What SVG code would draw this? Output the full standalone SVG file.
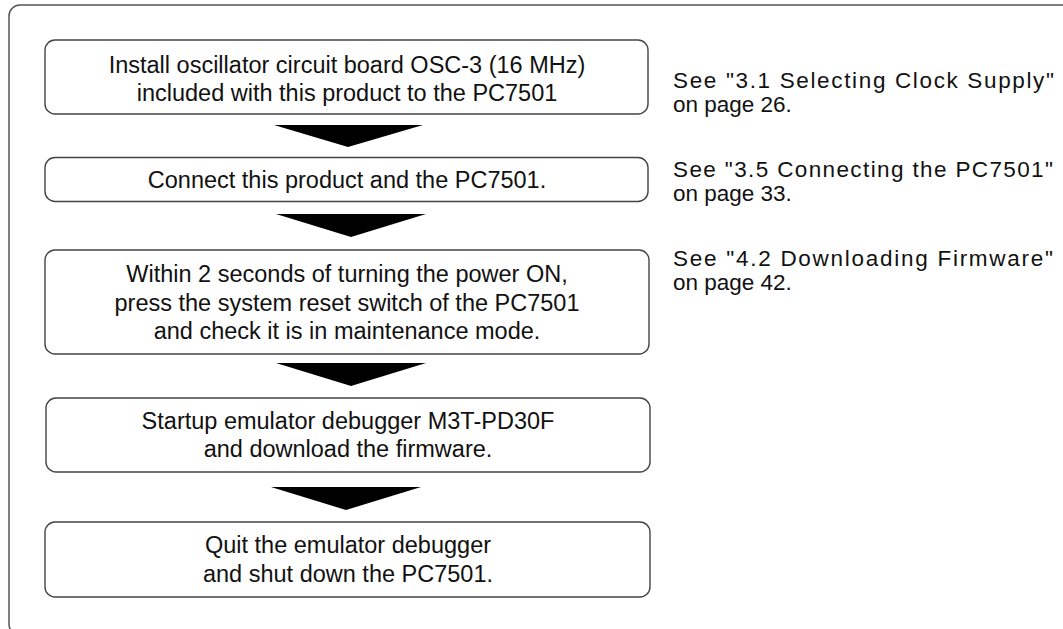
<svg xmlns="http://www.w3.org/2000/svg" width="1063" height="629" viewBox="0 0 1063 629">
<style>
.frame{fill:none;stroke:#555;stroke-width:1.5}
.box{fill:#fff;stroke:#444;stroke-width:1.4}
.t{font-family:"Liberation Sans",Arial,sans-serif;font-size:23.5px;fill:#111;text-anchor:middle}
.r{font-family:"Liberation Sans",Arial,sans-serif;font-size:22.5px;fill:#111}
.arr{fill:#000}
</style>
<rect x="9" y="5" width="1064" height="630" rx="11" class="frame"/>
<g id="step1">
<rect x="45" y="40" width="603" height="74" rx="10" class="box"/>
<text class="t" x="347" y="72.5">Install oscillator circuit board OSC-3 (16 MHz)</text>
<text class="t" x="347" y="101">included with this product to the PC7501</text>
</g>
<g id="step2">
<rect x="45" y="157.5" width="603" height="44" rx="10" class="box"/>
<text class="t" x="347" y="188">Connect this product and the PC7501.</text>
</g>
<g id="step3">
<rect x="45" y="250" width="604" height="104" rx="10" class="box"/>
<text class="t" x="347" y="282">Within 2 seconds of turning the power ON,</text>
<text class="t" x="347" y="310.5">press the system reset switch of the PC7501</text>
<text class="t" x="347" y="339">and check it is in maintenance mode.</text>
</g>
<g id="step4">
<rect x="46" y="398" width="604" height="74" rx="10" class="box"/>
<text class="t" x="348" y="429">Startup emulator debugger M3T-PD30F</text>
<text class="t" x="348" y="457">and download the firmware.</text>
</g>
<g id="step5">
<rect x="45" y="522" width="605" height="75" rx="10" class="box"/>
<text class="t" x="348" y="553">Quit the emulator debugger</text>
<text class="t" x="348" y="582">and shut down the PC7501.</text>
</g>
<g id="notes">
<text class="r" x="673" y="88" textLength="381" lengthAdjust="spacing">See "3.1 Selecting Clock Supply"</text>
<text class="r" x="673" y="112">on page 26.</text>
<text class="r" x="673" y="177" textLength="380" lengthAdjust="spacing">See "3.5 Connecting the PC7501"</text>
<text class="r" x="673" y="201">on page 33.</text>
<text class="r" x="673" y="266" textLength="380" lengthAdjust="spacing">See "4.2 Downloading Firmware"</text>
<text class="r" x="673" y="290">on page 42.</text>
</g>
<g id="connectors">
<polygon class="arr" points="274,125 423,125 348,147"/>
<polygon class="arr" points="276,214 426,214 351,237"/>
<polygon class="arr" points="276,363 426,363 351,386"/>
<polygon class="arr" points="271,487 421,487 346,510"/>
</g>
</svg>
